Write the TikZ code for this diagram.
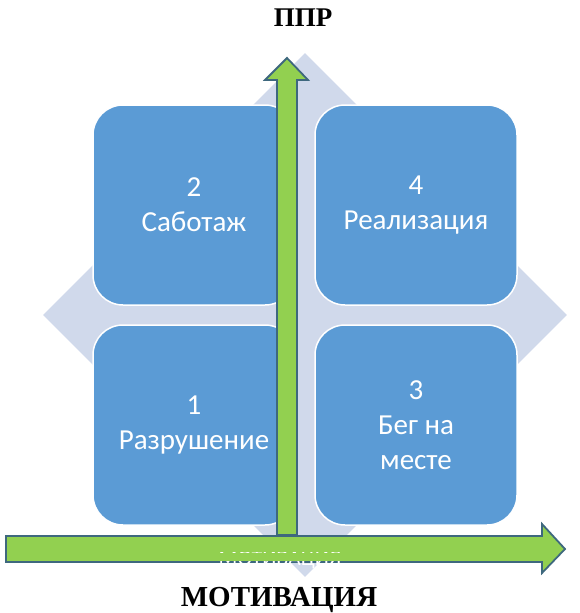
\documentclass[tikz,border=0pt]{standalone}
\usepackage{fontspec}
\setmainfont{Liberation Serif}
\newfontfamily\boxfont{Carlito}
\usetikzlibrary{shapes.geometric, positioning}
\definecolor{quadblue}{RGB}{91,155,213}
\definecolor{bgblue}{RGB}{208,217,235}
\definecolor{arrowgreen}{RGB}{146,208,80}
\definecolor{arrowedge}{RGB}{62,104,126}
\tikzset{
  quad/.style={rectangle, draw=white, line width=1.5pt, fill=quadblue,
    rounded corners=30pt, minimum width=202pt, minimum height=200pt,
    inner sep=0pt, align=center, text=white, font=\boxfont\fontsize{29}{35}\selectfont},
  bgdiamond/.style={diamond, fill=bgblue, minimum width=524pt,
    minimum height=524pt, inner sep=0pt},
  axisarrow/.style={fill=arrowgreen, draw=arrowedge, line width=1.8pt, line join=miter},
  axislabel/.style={font=\bfseries\fontsize{27}{30}\selectfont},
}
\begin{document}
\begin{tikzpicture}[x=1pt, y=-1pt]
  \useasboundingbox (0,0) rectangle (579,613);

  % Background diamond
  \node[bgdiamond] (bg) at (305,315) {};

  % Four quadrants
  \node[quad] (q2) at (194,205) {2\\Саботаж};
  \node[quad] (q4) at (416,205) {4\\Реализация};
  \node[quad] (q1) at (194,425) {1\\Разрушение};
  \node[quad] (q3) at (416,425) {3\\Бег на\\месте};

  % Vertical axis arrow
  \draw[axisarrow] (277,535) -- (277,80) -- (265,80) -- (287,58)
    -- (308,80) -- (297,80) -- (297,535) -- cycle;

  % Horizontal axis arrow
  \draw[axisarrow] (6,536) -- (542,536) -- (542,524) -- (565,549)
    -- (542,573) -- (542,562) -- (6,562) -- cycle;

  % Hidden axis text, only a thin strip shows
  \node[font=\boxfont\fontsize{22}{24}\selectfont, text=white, anchor=base, inner sep=0pt] (hid) at (280,565.5) {МОТИВАЦИЯ};
  \fill[arrowgreen] (200,538) rectangle (360,551.5);
  \fill[arrowgreen] (200,553) rectangle (360,560.8);

  % Axis labels
  \node[axislabel] (ppr) at (303,18) {ППР};
  \node[axislabel, font=\bfseries\fontsize{29}{32}\selectfont] (motiv) at (279,600) {МОТИВАЦИЯ};
\end{tikzpicture}
\end{document}
